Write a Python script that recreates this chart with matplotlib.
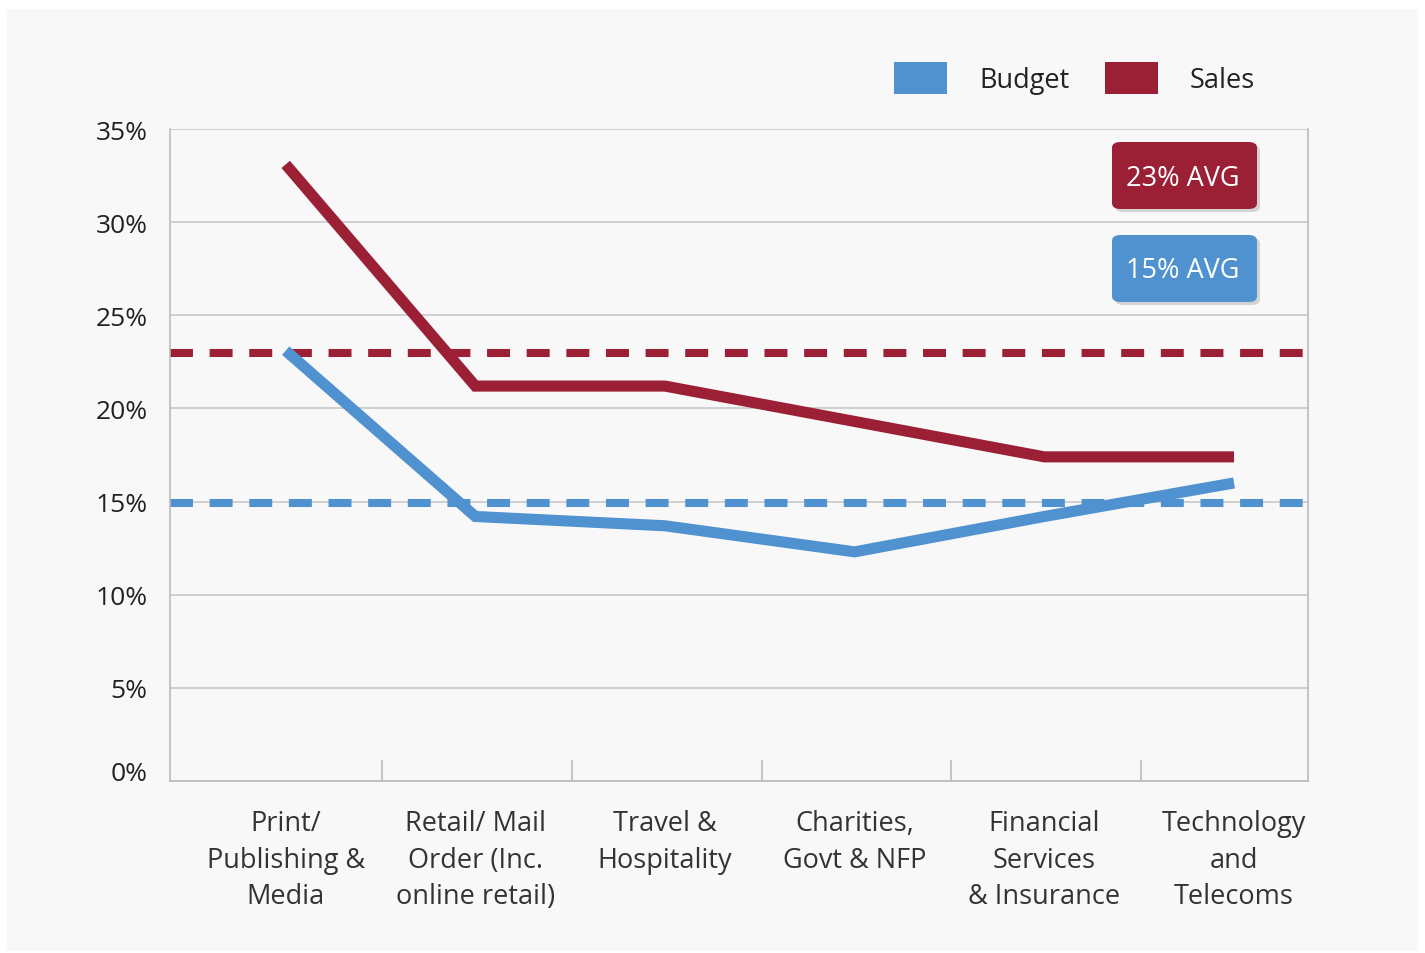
import matplotlib.pyplot as plt
from matplotlib.patches import Rectangle, FancyBboxPatch
from matplotlib.transforms import ScaledTranslation

plt.rcParams['font.family'] = ['Open Sans', 'DejaVu Sans']

categories = ["Print/\nPublishing &\nMedia", "Retail/ Mail\nOrder (Inc.\nonline retail)",
              "Travel &\nHospitality", "Charities,\nGovt & NFP",
              "Financial\nServices\n& Insurance", "Technology\nand\nTelecoms"]
sales = [33.1, 21.2, 21.2, 19.3, 17.4, 17.4]
budget = [23.1, 14.2, 13.7, 12.3, 14.2, 16.0]
sales_avg = 23.0
budget_avg = 14.9
yticks = [0, 5, 10, 15, 20, 25, 30, 35]

RED = "#9b1f35"
BLUE = "#5092cf"
BG = "#f8f8f8"
TXT = "#333333"

W, H = 1425, 954
fig = plt.figure(figsize=(W / 100, H / 100), dpi=100, facecolor="white")

# grey card behind everything
fig.patches.append(Rectangle((7 / W, 1 - 952 / H), (1418 - 7) / W, (952 - 10) / H,
                             transform=fig.transFigure, facecolor=BG, edgecolor="none", zorder=-5))

ax = fig.add_axes([170 / W, 1 - 782 / H, (1308 - 170) / W, (782 - 130) / H])
ax.set_facecolor(BG)

x = list(range(len(categories)))
ax.set_xlim(-0.61, 5.39)
ax.set_ylim(0, 35)

for v in yticks:
    ax.axhline(v, color="#c8c8c8", lw=1.2, zorder=1)

ax.axhline(sales_avg, color=RED, lw=5.8, dashes=(2.85, 2.07), zorder=2)
ax.axhline(budget_avg, color=BLUE, lw=5.8, dashes=(2.85, 2.07), zorder=2)

ax.plot(x, budget, color=BLUE, lw=8, solid_joinstyle="miter", solid_capstyle="butt", zorder=3)
ax.plot(x, sales, color=RED, lw=8, solid_joinstyle="miter", solid_capstyle="butt", zorder=4)

ax.spines["top"].set_visible(False)
for s in ["left", "right", "bottom"]:
    ax.spines[s].set_color("#bbbbbb")
    ax.spines[s].set_linewidth(1.2)

# boundary ticks between categories, drawn inside
for b in x[:-1]:
    ax.plot([b + 0.51, b + 0.51], [0, 1.05], color="#bbbbbb", lw=1.2, zorder=1)

ax.set_yticks(yticks)
ax.set_yticklabels([f"{v}%" for v in yticks], fontsize=19, color="#222222")
ax.tick_params(axis="y", length=0, pad=16)
ax.set_xticks(x)
ax.set_xticklabels(categories, fontsize=19.5, color=TXT, linespacing=1.42, va="top")
ax.tick_params(axis="x", length=0, pad=20)

lab0 = ax.get_yticklabels()[0]
lab0.set_transform(lab0.get_transform() + ScaledTranslation(0, 0.1, fig.dpi_scale_trans))

# legend drawn manually
for px, label, col in [(894, "Budget", BLUE), (1105, "Sales", RED)]:
    fig.patches.append(Rectangle((px / W, 1 - 95 / H), 53 / W, 32 / H,
                                 transform=fig.transFigure, facecolor=col, edgecolor="none", zorder=5))
    fig.text((px + 85) / W, 1 - 81 / H, label, fontsize=19.5, color="#222222", va="center", ha="left")

# average badges
for top, label, col in [(143, "23% AVG", RED), (236, "15% AVG", BLUE)]:
    bx, bw, bh = 1112, 145, 67
    fig.patches.append(FancyBboxPatch(((bx + 3) / W, 1 - (top + bh + 3) / H), bw / W, bh / H,
                                      boxstyle="round,pad=0,rounding_size=0.006",
                                      transform=fig.transFigure, facecolor="#000000", alpha=0.15,
                                      edgecolor="none", zorder=5))
    fig.patches.append(FancyBboxPatch((bx / W, 1 - (top + bh) / H), bw / W, bh / H,
                                      boxstyle="round,pad=0,rounding_size=0.006",
                                      transform=fig.transFigure, facecolor=col, edgecolor="none", zorder=6))
    fig.text((bx + bw / 2 - 2) / W, 1 - (top + bh / 2 + 2) / H, label, fontsize=19.5, color="white",
             ha="center", va="center", zorder=7)

fig.savefig("out.png", dpi=100, facecolor="white")
